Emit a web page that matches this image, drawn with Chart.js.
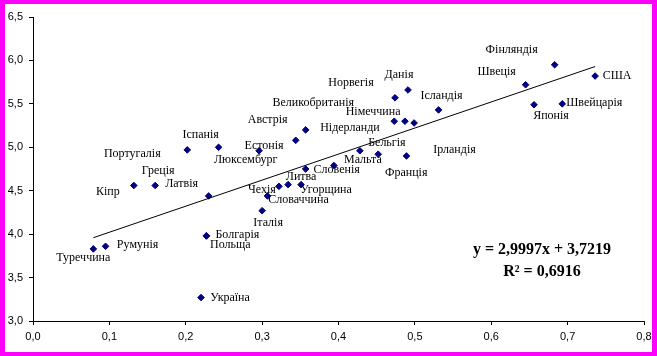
<!DOCTYPE html>
<html>
<head>
<meta charset="utf-8">
<script src="https://cdn.jsdelivr.net/npm/chart.js@4/dist/chart.umd.min.js"></script>
<style>
html,body{margin:0;padding:0;background:#fff;}
canvas{display:block;}
</style>
</head>
<body>
<canvas id="c" width="657" height="356"></canvas>
<script>
// ---- data ----
const countries = ["Туреччина","Румунія","Кіпр","Греція","Латвія","Португалія","Іспанія","Болгарія","Польща","Україна",
  "Естонія","Люксембург","Австрія","Великобританія","Нідерланди","Німеччина","Норвегія","Данія","Ісландія",
  "Литва","Словенія","Мальта","Бельгія","Франція","Ірландія","Чехія","Угорщина","Словаччина","Італія",
  "Швеція","Фінляндія","США","Японія","Швейцарія"];
const xValues = [0.079,0.095,0.132,0.160,0.230,0.202,0.243,0.227,0.227,0.220,
  0.296,0.344,0.357,0.473,0.487,0.499,0.474,0.491,0.531,
  0.334,0.357,0.394,0.428,0.452,0.489,0.322,0.351,0.307,0.300,
  0.645,0.683,0.736,0.656,0.693];
const yValues = [3.83,3.86,4.56,4.56,4.44,4.97,5.00,3.98,3.98,3.27,
  4.96,5.08,5.20,5.30,5.30,5.28,5.57,5.66,5.43,
  4.57,4.75,4.79,4.96,4.92,4.90,4.55,4.57,4.44,4.27,
  5.72,5.95,5.82,5.49,5.50];
const trendSlope = [2.9997];
const trendIntercept = [3.7219];
const rSquared = [0.6916];
const xAxisRange = [0, 0.8, 0.1];
const yAxisRange = [3.0, 6.5, 0.5];

// label placement (pixel offsets from the point), kept apart from the data
const labelOffsets = [[-10,9],[32,-1],[-26,6],[3,-15],[-27,-12],[-55,4],[-18,-12],[31,-1],[24,9],[29,0],
  [5,-5],[-50,20],[-38,-10],[-81,-18],[-55,7],[-41,-11],[-44,-15],[-9,-15],[3,-14],
  [13,-8],[31,1],[29,-6],[27,-8],[28,19],[48,-6],[-17,3],[25,5],[31,4],[6,12],
  [-29,-13],[-43,-15],[22,0],[17,11],[32,-1]];

const fmt = v => Number(v).toFixed(1).replace('.', ',');
const comma = (v, d) => v.toFixed(d).replace('.', ',');

const points = xValues.map((x, i) => ({x, y: yValues[i]}));
const xMin = Math.min(...xValues), xMax = Math.max(...xValues);
const trend = [xMin, xMax].map(x => ({x, y: trendSlope[0] * x + trendIntercept[0]}));

const framePlugin = {
  id: 'frame',
  beforeDraw(chart) {
    const ctx = chart.ctx, w = chart.width, h = chart.height;
    ctx.save();
    ctx.fillStyle = '#ffffff';
    ctx.fillRect(0, 0, w, h);
    ctx.fillStyle = '#ff00ff';
    ctx.fillRect(0, 0, w, 4);
    ctx.fillRect(0, h - 4, w, 4);
    ctx.fillRect(0, 0, 5, h);
    ctx.fillRect(w - 5, 0, 5, h);
    ctx.restore();
  }
};

const labelPlugin = {
  id: 'labels',
  afterDatasetsDraw(chart) {
    const ctx = chart.ctx;
    const meta = chart.getDatasetMeta(1);
    ctx.save();
    ctx.font = '12px "Liberation Serif", "Times New Roman", serif';
    ctx.fillStyle = '#000';
    ctx.textAlign = 'center';
    ctx.textBaseline = 'middle';
    meta.data.forEach((el, i) => {
      const o = labelOffsets[i];
      ctx.fillText(countries[i], el.x + o[0], el.y + o[1]);
    });
    // trendline equation
    ctx.font = 'bold 16px "Liberation Serif", "Times New Roman", serif';
    ctx.fillText('y = ' + comma(trendSlope[0], 4) + 'x + ' + comma(trendIntercept[0], 4), 542, 250);
    ctx.fillText('R\u00B2 = ' + comma(rSquared[0], 4), 542, 272);
    ctx.restore();
  }
};

new Chart(document.getElementById('c'), {
  type: 'scatter',
  data: {
    datasets: [
      {
        type: 'line',
        data: trend,
        borderColor: '#000',
        borderWidth: 1,
        pointRadius: 0,
        fill: false
      },
      {
        data: points,
        pointStyle: 'rectRot',
        pointRadius: 3.3,
        pointBackgroundColor: '#000080',
        pointBorderColor: '#000080',
        pointBorderWidth: 1
      }
    ]
  },
  options: {
    responsive: false,
    animation: false,
    devicePixelRatio: 1,
    layout: { padding: { left: 0, top: 17, right: 13, bottom: 0 } },
    plugins: { legend: { display: false }, tooltip: { enabled: false } },
    scales: {
      x: {
        type: 'linear',
        min: xAxisRange[0], max: xAxisRange[1],
        afterFit(s) { s.height = 35; },
        ticks: { stepSize: xAxisRange[2], callback: fmt, color: '#000', padding: 5,
          font: { family: '"Liberation Sans", Arial, sans-serif', size: 11 } },
        grid: { drawOnChartArea: false, drawTicks: true, tickLength: 4, color: '#000', lineWidth: 1 },
        border: { display: true, color: '#000', width: 1 }
      },
      y: {
        type: 'linear',
        min: yAxisRange[0], max: yAxisRange[1],
        afterFit(s) { s.width = 33; },
        ticks: { stepSize: yAxisRange[2], callback: fmt, color: '#000', padding: 6,
          font: { family: '"Liberation Sans", Arial, sans-serif', size: 11 } },
        grid: { drawOnChartArea: false, drawTicks: true, tickLength: 4, color: '#000', lineWidth: 1 },
        border: { display: true, color: '#000', width: 1 }
      }
    }
  },
  plugins: [framePlugin, labelPlugin]
});
</script>
</body>
</html>
